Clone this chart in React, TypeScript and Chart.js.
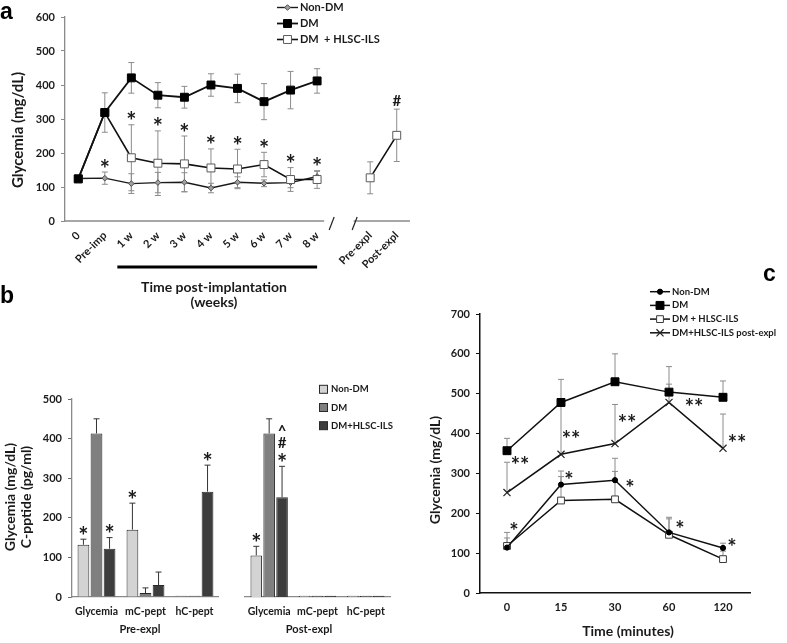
import React, { useEffect, useRef } from 'react';
import { Chart, registerables } from 'chart.js';

Chart.register(...registerables);

const FONT = "Lato, 'Open Sans', sans-serif";
const INK = '#1a1a1a';

// ---------------- Panel a data ----------------
const weekLabels = ['0', 'Pre-imp', '1 w', '2 w', '3 w', '4 w', '5 w', '6 w', '7 w', '8 w', '', 'Pre-expl', 'Post-expl'];
const nonDmWeeks = [125, 126, 110, 113, 114, 97, 114, 111, 113, 131, null, null, null];
const nonDmWeeksSd = [0, 18, 29, 30, 28, 14, 16, 10, 15, 15, null, null, null];
const dmWeeks = [124, 319, 421, 370, 364, 400, 390, 351, 385, 412, null, null, null];
const dmWeeksSd = [0, 58, 45, 37, 32, 33, 42, 53, 55, 36, null, null, null];
const hlscWeeks = [124, 319, 186, 170, 168, 156, 153, 166, 122, 122, null, 127, 252];
const hlscWeeksSd = [0, 0, 97, 95, 82, 56, 58, 36, 35, 26, null, 47, 77];
const weekMarks = [
  { ds: 0, i: 1, text: '*' },
  { ds: 2, i: 2, text: '*' },
  { ds: 2, i: 3, text: '*' },
  { ds: 2, i: 4, text: '*' },
  { ds: 2, i: 5, text: '*' },
  { ds: 2, i: 6, text: '*' },
  { ds: 2, i: 7, text: '*' },
  { ds: 2, i: 8, text: '*' },
  { ds: 2, i: 9, text: '*' },
  { ds: 2, i: 12, text: '#' },
];

// ---------------- Panel b data ----------------
const bCategories = ['Glycemia', 'mC-pept', 'hC-pept'];
const preNonDm = [132, 170, 3];
const preNonDmSd = [14, 67, 0];
const preDm = [413, 10, 3];
const preDmSd = [37, 13, 0];
const preHlsc = [122, 30, 266];
const preHlscSd = [28, 33, 67];
const postNonDm = [105, 3, 3];
const postNonDmSd = [23, 0, 0];
const postDm = [413, 3, 3];
const postDmSd = [37, 0, 0];
const postHlsc = [252, 3, 3];
const postHlscSd = [78, 0, 0];
const preMarks = [
  { ds: 0, i: 0, text: '*' },
  { ds: 2, i: 0, text: '*' },
  { ds: 0, i: 1, text: '*' },
  { ds: 2, i: 2, text: '*' },
];
const postMarks = [
  { ds: 0, i: 0, text: '*' },
  { ds: 2, i: 0, text: '*' },
  { ds: 2, i: 0, text: '#', stack: 1 },
  { ds: 2, i: 0, text: '^', stack: 2 },
];

// ---------------- Panel c data ----------------
const minuteLabels = ['0', '15', '30', '60', '120'];
const nonDmTol = [114, 272, 283, 152, 113];
const nonDmTolSd = [38, 34, 55, 38, 12];
const dmTol = [357, 478, 530, 504, 491];
const dmTolSd = [31, 58, 70, 64, 41];
const hlscTol = [118, 232, 235, 146, 85];
const hlscTolSd = [20, 60, 70, 40, 20];
const postExplTol = [252, 348, 375, 478, 363];
const postExplTolSd = [76, 130, 98, 46, 86];
const tolDoubleStars = [
  { i: 0, v: 334, dx: 13 },
  { i: 1, v: 400, dx: 10 },
  { i: 2, v: 440, dx: 12 },
  { i: 3, v: 480, dx: 25 },
  { i: 4, v: 388, dx: 14 },
];
const tolSingleStars = [
  { i: 0, v: 167, dx: 7 },
  { i: 1, v: 296, dx: 8 },
  { i: 2, v: 275, dx: 15 },
  { i: 3, v: 174, dx: 11 },
  { i: 4, v: 128, dx: 9 },
];

// ---------------- helpers ----------------
function seg(ctx: CanvasRenderingContext2D, x1: number, y1: number, x2: number, y2: number) {
  ctx.beginPath();
  ctx.moveTo(x1, y1);
  ctx.lineTo(x2, y2);
  ctx.stroke();
}

function label(ctx: CanvasRenderingContext2D, s: string, x: number, y: number, font: string, align: CanvasTextAlign = 'center', rot = 0) {
  ctx.save();
  ctx.translate(x, y);
  ctx.rotate(rot);
  ctx.font = font;
  ctx.fillStyle = INK;
  ctx.textAlign = align;
  ctx.textBaseline = 'middle';
  ctx.fillText(s, 0, 0);
  ctx.restore();
}

function glyph(ctx: CanvasRenderingContext2D, s: string, x: number, cy: number, font: string) {
  ctx.save();
  ctx.font = font;
  ctx.fillStyle = INK;
  ctx.textAlign = 'center';
  ctx.textBaseline = 'alphabetic';
  const m = ctx.measureText(s);
  const asc = m.actualBoundingBoxAscent;
  const desc = m.actualBoundingBoxDescent;
  ctx.fillText(s, x, cy + (asc - desc) / 2);
  ctx.restore();
}

const glyphFont = (t: string) => (t === '*' ? `bold 24px ${FONT}` : `bold 15px ${FONT}`);

function marker(ctx: CanvasRenderingContext2D, style: string, x: number, y: number, r: number, fill: string, stroke: string, lw: number) {
  ctx.save();
  ctx.fillStyle = fill;
  ctx.strokeStyle = stroke;
  ctx.lineWidth = lw;
  ctx.beginPath();
  if (style === 'rect') {
    const s = r * Math.SQRT1_2;
    ctx.rect(x - s, y - s, 2 * s, 2 * s);
    ctx.fill();
    ctx.stroke();
  } else if (style === 'rectRot') {
    ctx.moveTo(x, y - r);
    ctx.lineTo(x + r, y);
    ctx.lineTo(x, y + r);
    ctx.lineTo(x - r, y);
    ctx.closePath();
    ctx.fill();
    ctx.stroke();
  } else if (style === 'circle') {
    ctx.arc(x, y, r, 0, Math.PI * 2);
    ctx.fill();
    ctx.stroke();
  } else if (style === 'crossRot') {
    const s = r * Math.SQRT1_2;
    ctx.moveTo(x - s, y - s);
    ctx.lineTo(x + s, y + s);
    ctx.moveTo(x + s, y - s);
    ctx.lineTo(x - s, y + s);
    ctx.stroke();
  }
  ctx.restore();
}

function lineLegend(ctx: CanvasRenderingContext2D, datasets: any[], x0: number, y0: number, rowH: number, len: number, font: string) {
  datasets.forEach((ds, k) => {
    const y = y0 + k * rowH;
    ctx.save();
    ctx.strokeStyle = ds.borderColor;
    ctx.lineWidth = ds.borderWidth;
    seg(ctx, x0, y, x0 + len, y);
    ctx.restore();
    marker(ctx, ds.pointStyle, x0 + len / 2, y, ds.pointRadius, ds.pointBackgroundColor, ds.pointBorderColor, ds.pointBorderWidth);
    label(ctx, ds.label, x0 + len + 2, y, font, 'left');
  });
}

const errorBars = {
  id: 'errorBars',
  beforeDatasetsDraw(chart: any) {
    const ctx = chart.ctx as CanvasRenderingContext2D;
    const y = chart.scales.y;
    chart.data.datasets.forEach((ds: any, di: number) => {
      if (!ds.errors) return;
      const meta = chart.getDatasetMeta(di);
      meta.data.forEach((el: any, j: number) => {
        const v = ds.data[j];
        const e = ds.errors[j];
        if (v == null || !e) return;
        const yTop = y.getPixelForValue(v + e);
        const yBot = ds.errorDir === 'up' ? y.getPixelForValue(v) : y.getPixelForValue(v - e);
        ctx.save();
        ctx.strokeStyle = ds.errorColor;
        ctx.lineWidth = 1;
        seg(ctx, el.x, yTop, el.x, yBot);
        seg(ctx, el.x - ds.cap, yTop, el.x + ds.cap, yTop);
        if (ds.errorDir !== 'up') seg(ctx, el.x - ds.cap, yBot, el.x + ds.cap, yBot);
        ctx.restore();
      });
    });
  },
};

function statMarks(items: any[], gap: number, step: number) {
  return {
    id: 'statMarks',
    afterDatasetsDraw(chart: any) {
      const ctx = chart.ctx as CanvasRenderingContext2D;
      const y = chart.scales.y;
      items.forEach((m) => {
        const ds = chart.data.datasets[m.ds];
        const el = chart.getDatasetMeta(m.ds).data[m.i];
        const top = ds.data[m.i] + (ds.errors[m.i] || 0);
        const cy = y.getPixelForValue(top) - gap - (m.stack || 0) * step;
        glyph(ctx, m.text, el.x, cy, glyphFont(m.text));
      });
    },
  };
}

const tickFont = (size: number) => ({ family: FONT, weight: 'bold' as const, size });

// ---------------- Panel a ----------------
function makeA(): any {
  const datasets = [
    {
      label: 'Non-DM', data: nonDmWeeks, errors: nonDmWeeksSd, errorDir: 'both', errorColor: '#8c8c8c', cap: 3,
      borderColor: '#1a1a1a', borderWidth: 1.4, pointStyle: 'rectRot', pointRadius: 2.8,
      pointBackgroundColor: '#a0a0a0', pointBorderColor: '#4d4d4d', pointBorderWidth: 1, order: 2,
    },
    {
      label: 'DM', data: dmWeeks, errors: dmWeeksSd, errorDir: 'both', errorColor: '#8c8c8c', cap: 3,
      borderColor: '#111111', borderWidth: 1.8, pointStyle: 'rect', pointRadius: 5.6,
      pointBackgroundColor: '#000000', pointBorderColor: '#000000', pointBorderWidth: 1, order: 0,
    },
    {
      label: 'DM  + HLSC-ILS', data: hlscWeeks, errors: hlscWeeksSd, errorDir: 'both', errorColor: '#8c8c8c', cap: 3,
      borderColor: '#111111', borderWidth: 1.6, pointStyle: 'rect', pointRadius: 5.6,
      pointBackgroundColor: '#ffffff', pointBorderColor: '#5a5a5a', pointBorderWidth: 1, order: 1,
    },
  ];
  const decor = {
    id: 'decorA',
    afterDraw(chart: any) {
      const ctx = chart.ctx as CanvasRenderingContext2D;
      const { chartArea: ca, scales } = chart;
      const x = scales.x;
      const gx = x.getPixelForValue(10);
      const by = ca.bottom;
      ctx.save();
      ctx.strokeStyle = '#8a8a8a';
      ctx.lineWidth = 1.3;
      seg(ctx, ca.left, by, gx - 19.5, by);
      seg(ctx, gx + 10, by, ca.right, by);
      ctx.strokeStyle = '#222';
      ctx.lineWidth = 1.2;
      seg(ctx, gx - 14.5, by + 9, gx - 9.5, by - 4);
      seg(ctx, gx + 8.5, by + 9, gx + 13.5, by - 4);
      ctx.strokeStyle = '#000';
      ctx.lineWidth = 3;
      seg(ctx, x.getPixelForValue(2) - 14, by + 46, x.getPixelForValue(9), by + 46);
      ctx.restore();
      label(ctx, 'Time post-implantation', 214, 287, `bold 14px ${FONT}`);
      label(ctx, '(weeks)', 214, 302, `bold 14px ${FONT}`);
      label(ctx, 'Glycemia (mg/dL)', 18, 130, `bold 15px ${FONT}`, 'center', -Math.PI / 2);
      lineLegend(ctx, chart.data.datasets, 277, 7.5, 16, 21, `bold 11px ${FONT}`);
    },
  };
  return {
    type: 'line',
    data: { labels: weekLabels, datasets },
    options: {
      animation: false,
      responsive: false,
      events: [],
      layout: { padding: { left: 0, top: 17, right: 10, bottom: 0 } },
      elements: { line: { tension: 0 } },
      plugins: { legend: { display: false }, tooltip: { enabled: false } },
      scales: {
        x: {
          type: 'category', offset: true,
          grid: { display: false, drawTicks: false },
          border: { display: false },
          ticks: { autoSkip: false, minRotation: 45, maxRotation: 45, padding: 8, font: tickFont(11), color: INK },
          afterFit: (s: any) => { s.height = 91; },
        },
        y: {
          min: 0, max: 600,
          ticks: { stepSize: 100, padding: 6, font: tickFont(11), color: INK },
          grid: { drawOnChartArea: false, drawTicks: true, tickLength: 4, color: '#8a8a8a' },
          border: { color: '#8a8a8a', width: 1.3 },
          afterFit: (s: any) => { s.width = 65; },
        },
      },
    },
    plugins: [errorBars, statMarks(weekMarks, 9, 0), decor],
  };
}

// ---------------- Panel b ----------------
const barStyles = [
  { label: 'Non-DM', backgroundColor: '#d3d3d3' },
  { label: 'DM', backgroundColor: '#7f7f7f' },
  { label: 'DM+HLSC-ILS', backgroundColor: '#3d3d3d' },
];

function barDatasets(values: number[][], sds: number[][]) {
  return values.map((vals, k) => ({
    label: barStyles[k].label,
    data: vals,
    errors: sds[k],
    errorDir: 'up',
    errorColor: '#333333',
    cap: 3,
    backgroundColor: barStyles[k].backgroundColor,
    borderColor: '#2a2a2a',
    borderWidth: 1,
    barPercentage: 0.9,
    categoryPercentage: 0.8,
  }));
}

function barOptions(showY: boolean, padLeft: number, padRight: number): any {
  return {
    animation: false,
    responsive: false,
    events: [],
    layout: { padding: { left: padLeft, top: 19, right: padRight, bottom: 0 } },
    plugins: { legend: { display: false }, tooltip: { enabled: false } },
    scales: {
      x: {
        grid: { display: false, drawTicks: false },
        border: { color: '#8a8a8a', width: 1.3 },
        ticks: { padding: 8, font: tickFont(10.5), color: INK, maxRotation: 0, autoSkip: false },
        afterFit: (s: any) => { s.height = 46; },
      },
      y: {
        display: showY,
        min: 0, max: 500,
        ticks: { stepSize: 100, padding: 6, font: tickFont(11), color: INK },
        grid: { drawOnChartArea: false, drawTicks: true, tickLength: 4, color: '#6a6a6a' },
        border: { color: '#8a8a8a', width: 1.3 },
        afterFit: (s: any) => { s.width = showY ? 72 : 0; },
      },
    },
  };
}

function makeBPre(): any {
  const decor = {
    id: 'decorBPre',
    afterDraw(chart: any) {
      const ctx = chart.ctx as CanvasRenderingContext2D;
      label(ctx, 'Pre-expl', 140, 249, `bold 11px ${FONT}`);
      label(ctx, 'Glycemia (mg/dL)', 10, 117, `bold 14px ${FONT}`, 'center', -Math.PI / 2);
      label(ctx, 'C-pptide (pg/ml)', 26, 117, `bold 14px ${FONT}`, 'center', -Math.PI / 2);
    },
  };
  return {
    type: 'bar',
    data: { labels: bCategories, datasets: barDatasets([preNonDm, preDm, preHlsc], [preNonDmSd, preDmSd, preHlscSd]) },
    options: barOptions(true, 0, 3),
    plugins: [errorBars, statMarks(preMarks, 9, 14.5), decor],
  };
}

function makeBPost(): any {
  const decor = {
    id: 'decorBPost',
    afterDraw(chart: any) {
      const ctx = chart.ctx as CanvasRenderingContext2D;
      label(ctx, 'Post-expl', 87, 249, `bold 11px ${FONT}`);
      chart.data.datasets.forEach((ds: any, k: number) => {
        const y = 9.3 + k * 18.2;
        ctx.save();
        ctx.fillStyle = ds.backgroundColor;
        ctx.strokeStyle = '#2a2a2a';
        ctx.lineWidth = 1;
        ctx.fillRect(97.5, y - 4, 8, 8);
        ctx.strokeRect(97.5, y - 4, 8, 8);
        ctx.restore();
        label(ctx, ds.label, 109, y, `bold 9.5px ${FONT}`, 'left');
      });
    },
  };
  return {
    type: 'bar',
    data: { labels: bCategories, datasets: barDatasets([postNonDm, postDm, postHlsc], [postNonDmSd, postDmSd, postHlscSd]) },
    options: barOptions(false, 23, 10),
    plugins: [errorBars, statMarks(postMarks, 9, 14.5), decor],
  };
}

// ---------------- Panel c ----------------
function makeC(): any {
  const datasets = [
    {
      label: 'Non-DM', data: nonDmTol, errors: nonDmTolSd, errorDir: 'up', errorColor: '#8c8c8c', cap: 3,
      borderColor: '#111111', borderWidth: 1.5, pointStyle: 'circle', pointRadius: 2.6,
      pointBackgroundColor: '#000000', pointBorderColor: '#000000', pointBorderWidth: 1, order: 0,
    },
    {
      label: 'DM', data: dmTol, errors: dmTolSd, errorDir: 'up', errorColor: '#8c8c8c', cap: 3,
      borderColor: '#111111', borderWidth: 1.5, pointStyle: 'rect', pointRadius: 5.6,
      pointBackgroundColor: '#000000', pointBorderColor: '#000000', pointBorderWidth: 1, order: 1,
    },
    {
      label: 'DM + HLSC-ILS', data: hlscTol, errors: hlscTolSd, errorDir: 'up', errorColor: '#8c8c8c', cap: 3,
      borderColor: '#111111', borderWidth: 1.5, pointStyle: 'rect', pointRadius: 4.8,
      pointBackgroundColor: '#ffffff', pointBorderColor: '#3a3a3a', pointBorderWidth: 1, order: 3,
    },
    {
      label: 'DM+HLSC-ILS post-expl', data: postExplTol, errors: postExplTolSd, errorDir: 'up', errorColor: '#8c8c8c', cap: 3,
      borderColor: '#111111', borderWidth: 1.5, pointStyle: 'crossRot', pointRadius: 5,
      pointBackgroundColor: '#ffffff', pointBorderColor: '#222222', pointBorderWidth: 1.2, order: 2,
    },
  ];
  const decor = {
    id: 'decorC',
    afterDraw(chart: any) {
      const ctx = chart.ctx as CanvasRenderingContext2D;
      const { x, y } = chart.scales;
      tolDoubleStars.forEach((s) => glyph(ctx, '**', x.getPixelForValue(s.i) + s.dx, y.getPixelForValue(s.v), `bold 22px ${FONT}`));
      tolSingleStars.forEach((s) => glyph(ctx, '*', x.getPixelForValue(s.i) + s.dx, y.getPixelForValue(s.v), `bold 22px ${FONT}`));
      label(ctx, 'Glycemia (mg/dL)', 35, 190, `bold 14px ${FONT}`, 'center', -Math.PI / 2);
      label(ctx, 'Time (minutes)', 228, 351, `bold 14px ${FONT}`);
      lineLegend(ctx, chart.data.datasets, 250, 11.7, 13.7, 20, `bold 9.5px ${FONT}`);
    },
  };
  return {
    type: 'line',
    data: { labels: minuteLabels, datasets },
    options: {
      animation: false,
      responsive: false,
      events: [],
      layout: { padding: { left: 0, top: 34, right: 37, bottom: 0 } },
      elements: { line: { tension: 0 } },
      plugins: { legend: { display: false }, tooltip: { enabled: false } },
      scales: {
        x: {
          type: 'category', offset: true,
          grid: { display: false, drawTicks: false },
          border: { color: '#111111', width: 1.5 },
          ticks: { padding: 8, font: tickFont(11), color: INK },
          afterFit: (s: any) => { s.height = 50; },
        },
        y: {
          min: 0, max: 700,
          ticks: { stepSize: 100, padding: 6, font: tickFont(11), color: INK },
          grid: { drawOnChartArea: false, drawTicks: true, tickLength: 4, color: '#111111' },
          border: { color: '#111111', width: 1.5 },
          afterFit: (s: any) => { s.width = 80; },
        },
      },
    },
    plugins: [errorBars, decor],
  };
}

// ---------------- components ----------------
function ChartCanvas({ left, top, width, height, make }: { left: number; top: number; width: number; height: number; make: () => any }) {
  const ref = useRef<HTMLCanvasElement>(null);
  useEffect(() => {
    const chart = new Chart(ref.current as HTMLCanvasElement, make());
    return () => chart.destroy();
  }, []);
  return (
    <canvas
      ref={ref}
      width={width}
      height={height}
      style={{ position: 'absolute', left, top, width, height }}
    />
  );
}

const letter = (left: number, top: number): React.CSSProperties => ({
  position: 'absolute',
  left,
  top,
  font: "bold 23px 'Liberation Sans', Arial, sans-serif",
  lineHeight: '23px',
  color: '#000',
});

export default function App() {
  return (
    <div style={{ position: 'absolute', left: 0, top: 0, width: 787, height: 643, background: '#ffffff', overflow: 'hidden' }}>
      <ChartCanvas left={0} top={0} width={420} height={312} make={makeA} />
      <ChartCanvas left={0} top={380} width={222} height={263} make={makeBPre} />
      <ChartCanvas left={222} top={380} width={178} height={263} make={makeBPost} />
      <ChartCanvas left={400} top={280} width={387} height={363} make={makeC} />
      <div style={letter(0, 0)}>a</div>
      <div style={letter(0, 284)}>b</div>
      <div style={letter(763, 262)}>c</div>
    </div>
  );
}
